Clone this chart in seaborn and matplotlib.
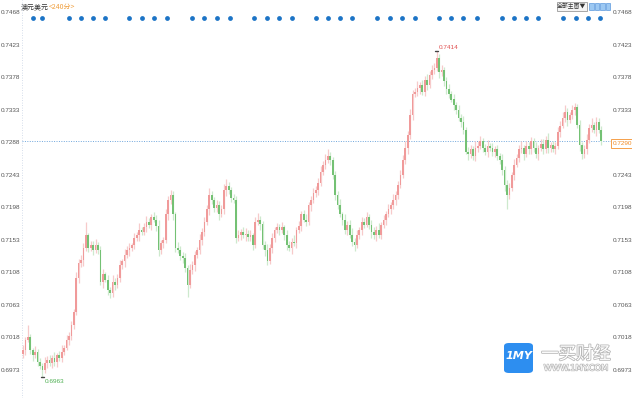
import matplotlib
matplotlib.use("Agg")
import matplotlib.pyplot as plt
import matplotlib.transforms as mtransforms
import matplotlib.patheffects as pe
from matplotlib.patches import FancyBboxPatch, Rectangle
from matplotlib import font_manager
import numpy as np
import pandas as pd
import seaborn as sns

# ---------------- data ----------------
title_main = "澳元美元"
title_period = "<240分>"

first_open = 0.6995
closes = [
    0.7001, 0.7015, 0.7018, 0.7001, 0.6994, 0.6998, 0.6984, 0.6979, 0.6973, 0.6982,
    0.6987, 0.6983, 0.6990, 0.6984, 0.6993, 0.6990, 0.6998, 0.7004, 0.7015, 0.7020,
    0.7035, 0.7053, 0.7100, 0.7121, 0.7125, 0.7142, 0.7159, 0.7142, 0.7146, 0.7139,
    0.7146, 0.7139, 0.7095, 0.7105, 0.7098, 0.7084, 0.7079, 0.7095, 0.7091, 0.7100,
    0.7118, 0.7123, 0.7132, 0.7139, 0.7142, 0.7146, 0.7156, 0.7159, 0.7167, 0.7164,
    0.7170, 0.7178, 0.7174, 0.7184, 0.7181, 0.7172, 0.7139, 0.7148, 0.7153, 0.7188,
    0.7208, 0.7215, 0.7188, 0.7142, 0.7139, 0.7131, 0.7128, 0.7114, 0.7091, 0.7111,
    0.7118, 0.7132, 0.7139, 0.7153, 0.7164, 0.7178, 0.7195, 0.7215, 0.7208, 0.7197,
    0.7201, 0.7188, 0.7195, 0.7222, 0.7228, 0.7222, 0.7211, 0.7208, 0.7156, 0.7159,
    0.7164, 0.7159, 0.7161, 0.7157, 0.7159, 0.7146, 0.7178, 0.7181, 0.7175, 0.7146,
    0.7139, 0.7123, 0.7142, 0.7156, 0.7167, 0.7170, 0.7167, 0.7170, 0.7159, 0.7146,
    0.7142, 0.7150, 0.7148, 0.7167, 0.7172, 0.7188, 0.7181, 0.7178, 0.7201, 0.7208,
    0.7218, 0.7222, 0.7232, 0.7247, 0.7257, 0.7264, 0.7269, 0.7264, 0.7243, 0.7215,
    0.7201, 0.7188, 0.7181, 0.7167, 0.7174, 0.7160, 0.7150, 0.7146, 0.7160, 0.7167,
    0.7178, 0.7174, 0.7184, 0.7174, 0.7164, 0.7159, 0.7167, 0.7160, 0.7174, 0.7181,
    0.7188, 0.7195, 0.7201, 0.7208, 0.7215, 0.7229, 0.7243, 0.7264, 0.7280, 0.7298,
    0.7326, 0.7354, 0.7358, 0.7363, 0.7367, 0.7358, 0.7374, 0.7367, 0.7381, 0.7388,
    0.7391, 0.7405, 0.7385, 0.7388, 0.7372, 0.7361, 0.7354, 0.7347, 0.7340, 0.7333,
    0.7322, 0.7316, 0.7305, 0.7275, 0.7271, 0.7278, 0.7269, 0.7280, 0.7283, 0.7289,
    0.7280, 0.7275, 0.7283, 0.7280, 0.7275, 0.7278, 0.7269, 0.7264, 0.7250, 0.7229,
    0.7215, 0.7225, 0.7243, 0.7257, 0.7266, 0.7278, 0.7280, 0.7271, 0.7283, 0.7278,
    0.7289, 0.7280, 0.7272, 0.7280, 0.7286, 0.7278, 0.7291, 0.7280, 0.7284, 0.7278,
    0.7283, 0.7302, 0.7311, 0.7322, 0.7330, 0.7319, 0.7326, 0.7333, 0.7336, 0.7312,
    0.7284, 0.7271, 0.7278, 0.7291, 0.7308, 0.7312, 0.7305, 0.7316, 0.7305, 0.7290,
]

# wick lengths beyond the body, in pips (0.0001)
upper_wick_pips = [
    6, 4, 17, 5, 3, 8, 4, 6, 3, 9,   5, 7, 4, 8, 3, 6, 9, 4, 7, 5,
    6, 4, 8, 5, 7, 6, 19, 4, 6, 5,   8, 4, 5, 7, 3, 6, 4, 9, 5, 6,
    7, 4, 8, 5, 6, 3, 7, 5, 9, 4,    6, 8, 5, 4, 7, 6, 9, 5, 4, 8,
    6, 7, 5, 4, 8, 6, 5, 7, 4, 9,    5, 6, 4, 8, 5, 7, 6, 9, 5, 4,
    7, 5, 6, 8, 9, 5, 4, 6, 5, 7,    4, 6, 8, 5, 7, 4, 6, 9, 5, 4,
    6, 8, 5, 7, 4, 6, 5, 8, 4, 7,    5, 6, 9, 4, 7, 5, 6, 8, 4, 6,
    7, 5, 6, 8, 5, 7, 9, 6, 4, 5,    6, 8, 4, 7, 5, 6, 9, 5, 7, 4,
    6, 5, 8, 4, 7, 6, 5, 9, 4, 6,    5, 7, 4, 8, 6, 5, 7, 6, 9, 5,
    8, 6, 5, 9, 4, 7, 6, 8, 5, 7,    6, 9, 5, 7, 4, 6, 8, 5, 7, 4,
    6, 5, 8, 4, 7, 6, 5, 9, 6, 7,    5, 6, 8, 4, 7, 5, 6, 4, 8, 5,
    6, 7, 4, 8, 5, 6, 9, 4, 7, 5,    6, 5, 8, 4, 6, 7, 5, 9, 4, 6,
    5, 7, 6, 8, 9, 5, 4, 7, 6, 5,    7, 4, 6, 8, 5, 9, 4, 7, 5, 6,
]
lower_wick_pips = [
    5, 7, 4, 6, 8, 4, 6, 5, 10, 4,   6, 4, 8, 5, 7, 4, 6, 5, 4, 7,
    5, 6, 4, 7, 5, 8, 4, 6, 5, 7,    4, 6, 5, 8, 4, 7, 6, 5, 8, 4,
    6, 5, 7, 4, 8, 5, 6, 4, 7, 5,    4, 6, 5, 8, 4, 7, 9, 5, 6, 4,
    7, 5, 8, 6, 4, 6, 7, 5, 17, 4,   6, 8, 4, 5, 7, 6, 4, 8, 5, 6,
    5, 7, 4, 6, 8, 5, 6, 4, 7, 5,    6, 4, 8, 5, 6, 7, 4, 5, 8, 6,
    9, 5, 4, 7, 6, 5, 8, 4, 6, 7,    5, 8, 4, 6, 5, 7, 4, 6, 5, 8,
    4, 6, 7, 5, 4, 6, 5, 8, 6, 7,    5, 4, 7, 6, 8, 5, 6, 9, 4, 6,
    7, 5, 4, 6, 8, 5, 7, 4, 6, 5,    8, 4, 6, 5, 7, 6, 4, 5, 6, 8,
    5, 7, 4, 6, 8, 5, 6, 7, 4, 5,    6, 4, 8, 5, 7, 6, 5, 4, 8, 6,
    5, 7, 6, 4, 8, 5, 6, 7, 5, 4,    6, 5, 7, 4, 6, 8, 5, 6, 7, 9,
    20, 6, 5, 7, 4, 6, 5, 8, 4, 6,   7, 5, 6, 8, 4, 6, 5, 7, 6, 4,
    6, 5, 7, 4, 6, 8, 5, 6, 7, 5,    8, 6, 5, 7, 4, 6, 5, 8, 4, 6,
]

# candle positions of the event dots shown along the top
event_positions = [4, 8, 19, 24, 29, 34, 44, 49, 54, 59.5, 70, 75, 80, 85.5,
                   95.5, 101, 106, 111, 121, 126, 131, 136, 146.5, 151.5, 156.5,
                   162, 172, 177, 182, 187.5, 198, 203, 208, 213, 223, 228.5,
                   233.5, 238.5]

ytick_values = [0.7468, 0.7423, 0.7378, 0.7333, 0.7288, 0.7243, 0.7198,
                0.7153, 0.7108, 0.7063, 0.7018, 0.6973]
ytick_labels = ["0.7468", "0.7423", "0.7378", "0.7333", "0.7288", "0.7243",
                "0.7198", "0.7153", "0.7108", "0.7063", "0.7018", "0.6973"]

high_label = "0.7414"
low_label = "0.6963"
last_label = "0.7290"

# ---------------- frame ----------------
closes = np.array(closes)
opens = np.concatenate([[first_open], closes[:-1]])
body_top = np.maximum(opens, closes)
body_bot = np.minimum(opens, closes)
highs = body_top + np.array(upper_wick_pips) * 0.0001
lows = body_bot - np.array(lower_wick_pips) * 0.0001
df = pd.DataFrame({"i": np.arange(len(closes)), "open": opens, "close": closes,
                   "high": highs, "low": lows})
df["up"] = df["close"] >= df["open"]

sns.set_theme(style="white")
plt.rcParams["font.family"] = ["DejaVu Sans", "Noto Sans CJK SC"]

avail = {f.name for f in font_manager.fontManager.ttflist}
num_font = "Liberation Sans Narrow" if "Liberation Sans Narrow" in avail else "Liberation Sans"
num_size = 5.4 if num_font == "Liberation Sans Narrow" else 4.6

W, H = 632, 398
fig = plt.figure(figsize=(W / 100, H / 100), dpi=100)
fig.patch.set_facecolor("white")
ax_left, ax_right = 22, 611
ax = fig.add_axes([ax_left / W, 0, (ax_right - ax_left) / W, 1])
ax.set_facecolor("white")
for s in ax.spines.values():
    s.set_visible(False)

ax.set_xlim(-0.41, 243.0)
ax.set_ylim(0.69342, 0.74846)

red_body, red_wick = "#f09a9a", "#f7caca"
green_body, green_wick = "#74c174", "#cde9cd"

up = df[df["up"]]
dn = df[~df["up"]]
ax.vlines(up["i"], up["low"], up["high"], color=red_wick, lw=0.9, zorder=2)
ax.vlines(dn["i"], dn["low"], dn["high"], color=green_wick, lw=0.9, zorder=2)
ax.bar(up["i"], (up["close"] - up["open"]).clip(lower=0.00006), bottom=up["open"],
       width=0.7, color=red_body, linewidth=0, zorder=3)
ax.bar(dn["i"], (dn["open"] - dn["close"]).clip(lower=0.00006), bottom=dn["close"],
       width=0.7, color=green_body, linewidth=0, zorder=3)

# y ticks both sides
ax.set_yticks(ytick_values)
ax.set_yticklabels(ytick_labels)
ax.set_xticks([])
ax.tick_params(axis="y", which="both", length=0, labelsize=num_size, labelcolor="#555555",
               left=True, right=True, labelleft=True, labelright=True, pad=1.2)
for t in ax.yaxis.get_major_ticks():
    t.label1.set_family(num_font)
    t.label2.set_family(num_font)
ax.grid(False)

# edge dotted verticals
for xv in ax.get_xlim():
    ax.axvline(xv, color="#c8d4e4", lw=0.6, ls=(0, (1, 2)), zorder=1)

# last price line
last = closes[-1]
ax.axhline(last, color="#6fa6dc", lw=0.7, ls=(0, (1, 1.5)), zorder=1)
trans_right = mtransforms.blended_transform_factory(ax.transAxes, ax.transData)
ax.text(1.003, last - 0.00004, last_label, transform=trans_right, ha="left", va="top",
        fontsize=num_size, color="#f08a24", family=num_font,
        bbox=dict(boxstyle="square,pad=0.25", fc="white", ec="#f5a04a", lw=0.7),
        zorder=6, clip_on=False)

# event dots along top
trans_top = mtransforms.blended_transform_factory(ax.transData, ax.transAxes)
ev = pd.DataFrame({"x": event_positions, "y": [1 - 18 / H] * len(event_positions)})
ax.scatter(ev["x"], ev["y"], transform=trans_top, s=12, color="#1c74c6",
           linewidths=0, zorder=5, clip_on=False)

# extreme markers
hi_i = int(np.argmax(highs))
lo_i = int(np.argmin(lows))
ax.plot([hi_i - 0.6, hi_i + 0.6], [highs[hi_i]] * 2, color="#444", lw=1.0, zorder=6)
ax.annotate(high_label, (hi_i, highs[hi_i]), xytext=(1.5, 1), textcoords="offset points",
            fontsize=num_size, family=num_font, color="#e05050", ha="left", va="bottom")
ax.plot([lo_i - 0.6, lo_i + 0.6], [lows[lo_i]] * 2, color="#444", lw=1.0, zorder=6)
ax.annotate(low_label, (lo_i, lows[lo_i]), xytext=(1.5, -1.5), textcoords="offset points",
            fontsize=num_size, family=num_font, color="#4caf50", ha="left", va="top")

# title top-left
cjk = ["Noto Sans CJK SC", "DejaVu Sans"]
t1 = fig.text(21 / W, 1 - 7 / H, title_main, fontsize=5.0, color="#333333",
              family=cjk, va="center", ha="left")
fig.canvas.draw()
bb = t1.get_window_extent()
fig.text(bb.x1 / W, 1 - 7 / H, title_period, fontsize=5.0, color="#f0a040",
         family=cjk, va="center", ha="left")

# top-right controls
fig.patches.append(Rectangle((557 / W, 1 - 11 / H), 30 / W, 9 / H, transform=fig.transFigure,
                             fc="#f4f4f4", ec="#9a9a9a", lw=0.6))
fig.text(572 / W, 1 - 6.5 / H, "全部主图▼", fontsize=4.2, color="#333333", family=cjk,
         ha="center", va="center")
for k in range(4):
    fig.patches.append(Rectangle(((589 + k * 5.5) / W, 1 - 10 / H), 4.5 / W, 7 / H,
                                 transform=fig.transFigure, fc="#9cc8f2", ec="#3f86d6", lw=0.4))

# watermark
fig.patches.append(FancyBboxPatch((504 / W, 1 - 373 / H), 29 / W, 30 / H,
                                  boxstyle="round,pad=0,rounding_size=0.008",
                                  transform=fig.transFigure, fc="#2d8ef0", ec="none", zorder=10))
fig.text(518.5 / W, 1 - 356 / H, "1MY", fontsize=8, color="white", fontweight="bold",
         style="italic", ha="center", va="center", zorder=11)
fig.text(576 / W, 1 - 354 / H, "一买财经", fontsize=12.5, color="white", family=cjk,
         ha="center", va="center", zorder=11,
         path_effects=[pe.withStroke(linewidth=1.2, foreground="#b8b8b8")])
fig.text(576 / W, 1 - 368 / H, "WWW.1MY.COM", fontsize=6, color="white",
         ha="center", va="center", zorder=11,
         path_effects=[pe.withStroke(linewidth=1.0, foreground="#b8b8b8")])

fig.savefig("out.png", dpi=100, facecolor="white")
